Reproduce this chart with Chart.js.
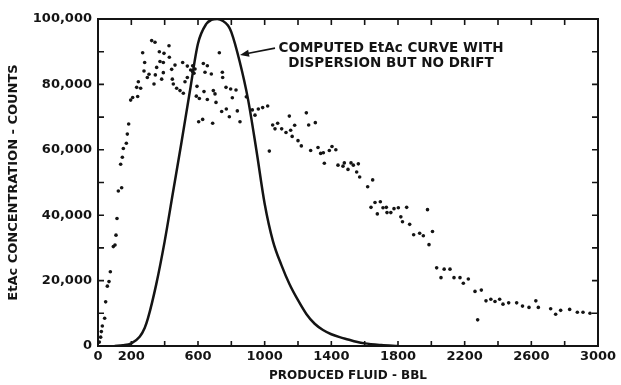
<!doctype html>
<html>
<head>
	<title>EtAc concentration</title>
	<script src="https://cdn.jsdelivr.net/npm/chart.js@4.4.1"></script>
	<style>
	* { margin: 0; padding: 0; }
	body { background: #fff; }
	.chartBox { width: 621px; height: 385px; }
	</style>
</head>
<body>
	<div class="chartBox"><canvas id="canvas_etac"></canvas></div>

<script type="text/javascript">
	// computed EtAc curve (dispersion, no drift)
	var curveX = [100,150,200,250,280,300,350,400,450,500,550,600,650,680,715,750,780,800,850,900,950,1000,1050,1100,1150,1200,1250,1300,1350,1400,1450,1500,1550,1600,1700,1800];
	var curveY = [0,200,800,2800,5500,8500,19000,32000,47000,62000,77500,92500,98500,99700,100000,99400,98000,96000,87000,75500,60000,43500,32000,24800,18800,14000,9800,6800,4900,3600,2700,2000,1300,800,300,0];

	// measured points
	var dotX = [8,16,20,26,40,46,56,66,74,92,102,108,114,122,142,136,146,152,170,176,184,196,208,232,238,242,256,268,276,280,
		296,306,322,336,342,344,352,368,372,382,392,392,396,426,428,442,446,452,462,472,492,508,512,522,536,536,556,568,568,576,582,
		590,594,604,608,628,632,636,642,656,656,680,688,692,702,708,728,742,746,748,768,770,788,796,806,828,836,852,890,
		926,942,962,988,1018,1028,1048,1062,1078,1102,1128,1148,1156,1165,1180,1200,1220,1250,1264,1276,1304,1320,1336,1352,1358,
		1388,1404,1427,1440,1470,1478,1500,1518,1532,1552,1562,1570,1618,1638,1648,1662,1676,1694,1710,1730,1734,1757,1776,1802,
		1817,1827,1852,1870,1894,1930,1952,1977,1986,2007,2032,2058,2077,2112,2136,2172,2192,2222,2262,2278,2300,2328,2357,2382,
		2410,2430,2464,2512,2547,2586,2627,2642,2716,2746,2776,2830,2876,2910,2952];
	var dotY = [1200,2700,4400,6100,8500,13500,18300,19700,22700,30400,30900,33900,39000,47400,48400,55600,57700,60400,62000,64800,67900,75200,76000,79100,76300,80800,78800,89700,84100,86700,
		82100,83100,93400,80100,92900,82900,85200,90000,87000,81600,86700,83600,89500,91800,88300,84600,81600,80100,85900,78800,78100,86700,77300,80800,85600,82100,84400,85700,83900,83400,84700,
		76400,79400,68600,75700,69300,86400,77800,83700,85700,75400,83200,68100,78100,77100,74500,89700,71700,83700,82100,79100,72500,70100,78600,75900,78300,71900,68600,76200,
		72200,70600,72500,72900,73400,59600,67600,66400,68100,66400,65300,70300,66000,64100,67500,62800,61200,71300,67600,59800,68300,60700,58900,59100,55900,
		59800,61000,60000,55300,55000,56000,54000,56000,55300,53200,55700,51700,48700,42400,50800,43900,40400,44100,42300,42400,40800,40800,42000,42300,
		39500,38000,42400,37200,34000,34500,33700,41700,31000,35000,23900,20900,23500,23500,20900,20900,19200,20500,16700,8000,17100,13800,14300,13600,
		14300,12800,13200,13200,12200,11800,13800,11800,11400,9700,10900,11200,10300,10300,10000];

	var noteLines = ['COMPUTED EtAc CURVE WITH', 'DISPERSION BUT NO DRIFT'];

	var ink = '#141414';
	var tickFont = { family: 'DejaVu Sans', size: 13, weight: 'bold' };

	var curve_data = curveX.map(function(v, i) { return { x: v, y: curveY[i] }; });
	var dot_data = dotX.map(function(v, i) { return { x: v, y: dotY[i] }; });

	// box frame with inward ticks + arrow note
	var framePlugin = {
		id: 'frame',
		afterDraw: function(chart) {
			var ctx = chart.ctx, a = chart.chartArea;
			var xs = chart.scales.x, ys = chart.scales.y;
			ctx.save();
			ctx.strokeStyle = ink;
			ctx.lineWidth = 2;
			ctx.strokeRect(a.left, a.top, a.right - a.left, a.bottom - a.top);
			ctx.lineWidth = 1.6;
			ctx.beginPath();
			xs.ticks.forEach(function(t) {
				var px = xs.getPixelForValue(t.value);
				ctx.moveTo(px, a.bottom); ctx.lineTo(px, a.bottom - 5);
				ctx.moveTo(px, a.top); ctx.lineTo(px, a.top + 6);
			});
			ys.ticks.forEach(function(t) {
				var py = ys.getPixelForValue(t.value);
				ctx.moveTo(a.left, py); ctx.lineTo(a.left + 6, py);
				ctx.moveTo(a.right, py); ctx.lineTo(a.right - 6, py);
			});
			ctx.stroke();

			// arrow
			var tx = xs.getPixelForValue(1062), ty = ys.getPixelForValue(91100);
			var hx = xs.getPixelForValue(852), hy = ys.getPixelForValue(89000);
			ctx.lineWidth = 1.6;
			ctx.beginPath();
			ctx.moveTo(tx, ty); ctx.lineTo(hx + 6, hy - 1.2);
			ctx.stroke();
			var ang = Math.atan2(hy - ty, hx - tx);
			ctx.fillStyle = ink;
			ctx.beginPath();
			ctx.moveTo(hx, hy);
			ctx.lineTo(hx - 9 * Math.cos(ang) + 3.5 * Math.sin(ang), hy - 9 * Math.sin(ang) - 3.5 * Math.cos(ang));
			ctx.lineTo(hx - 9 * Math.cos(ang) - 3.5 * Math.sin(ang), hy - 9 * Math.sin(ang) + 3.5 * Math.cos(ang));
			ctx.closePath();
			ctx.fill();

			// note text
			ctx.font = 'bold 13.5px "DejaVu Sans"';
			ctx.textAlign = 'center';
			ctx.textBaseline = 'middle';
			var cx = xs.getPixelForValue(1758);
			ctx.fillText(noteLines[0], cx, ys.getPixelForValue(91100));
			ctx.fillText(noteLines[1], cx, ys.getPixelForValue(86500));
			ctx.restore();
		}
	};

	const etac_config = {
		type: 'scatter',
		data: {
			datasets: [
			{
				type: 'line',
				label: 'Computed EtAc curve',
				data: curve_data,
				borderColor: ink,
				borderWidth: 2.5,
				pointRadius: 0,
				fill: false,
				cubicInterpolationMode: 'monotone',
			},
			{
				label: 'Measured',
				data: dot_data,
				backgroundColor: ink,
				borderColor: ink,
				borderWidth: 0,
				pointRadius: 1.8,
			}
			]
		},
		options: {
			responsive: true,
			maintainAspectRatio: false,
			animation: false,
			layout: { padding: { top: 19, right: 23, left: 0, bottom: 0 } },
			scales: {
				x: {
					type: 'linear',
					min: 0,
					max: 3000,
					afterFit: function(scale) { scale.height = 39; },
					grid: { display: false, drawTicks: false },
					border: { display: false },
					ticks: {
						stepSize: 200,
						autoSkip: false,
						maxRotation: 0,
						padding: 3,
						color: ink,
						font: tickFont,
						callback: function(value) {
							return (value === 0 || (value - 200) % 400 === 0) ? String(value) : '';
						}
					},
					title: {
						display: true,
						text: 'PRODUCED FLUID - BBL',
						color: ink,
						font: { family: 'DejaVu Sans', size: 12, weight: 'bold' },
						padding: { top: 0, bottom: 2 }
					}
				},
				y: {
					min: 0,
					max: 100000,
					afterFit: function(scale) { scale.width = 98; },
					grid: { display: false, drawTicks: false },
					border: { display: false },
					ticks: {
						stepSize: 10000,
						autoSkip: false,
						padding: 6,
						color: ink,
						font: tickFont,
						callback: function(value) {
							return value % 20000 === 0 ? value.toLocaleString('en-US') : '';
						}
					},
					title: {
						display: true,
						text: 'EtAc CONCENTRATION - COUNTS',
						color: ink,
						font: { family: 'DejaVu Sans', size: 13, weight: 'bold' },
						padding: { top: 6, bottom: 0 }
					}
				}
			},
			plugins: {
				legend: { display: false },
				tooltip: { enabled: false }
			}
		},
		plugins: [framePlugin]
	};

	var etac_Chart = new Chart(document.getElementById('canvas_etac'), etac_config);
</script>
</body>
</html>
